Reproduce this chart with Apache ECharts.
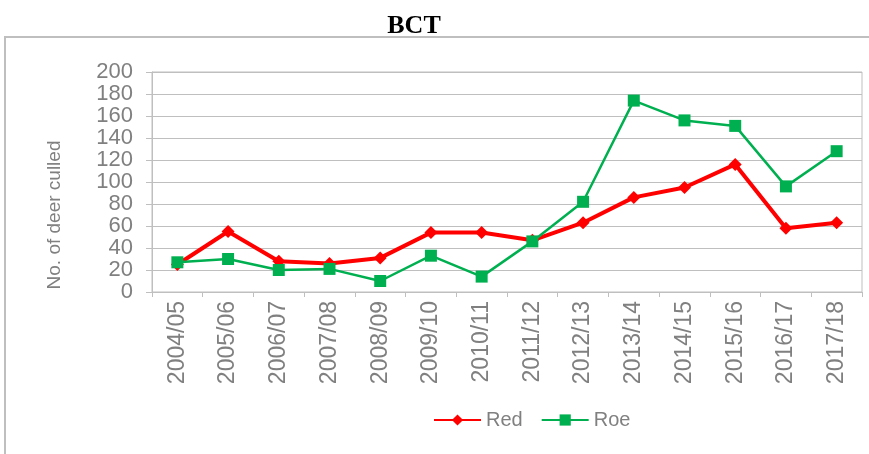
<!DOCTYPE html>
<html>
<head>
<meta charset="utf-8">
<script src="https://cdn.jsdelivr.net/npm/echarts@6/dist/echarts.min.js"></script>
<style>
  html, body { margin: 0; padding: 0; background: #fff; }
  #chart { width: 869px; height: 454px; }
</style>
</head>
<body>
<div id="chart"></div>
<script>
// seasons on the x axis
var seasons = ["2004/05", "2005/06", "2006/07", "2007/08", "2008/09", "2009/10", "2010/11",
  "2011/12", "2012/13", "2013/14", "2014/15", "2015/16", "2016/17", "2017/18"];
// deer culled per season
var redDeer = [25, 55, 28, 26, 31, 54, 54, 47, 63, 86, 95, 116, 58, 63];
var roeDeer = [27, 30, 20, 21, 10, 33, 14, 46, 82, 174, 156, 151, 96, 128];

var grey = "#808080";
var lineGrey = "#bfbfbf";

var chart = echarts.init(document.getElementById("chart"));
chart.setOption({
  animation: false,
  backgroundColor: "#fff",
  title: {
    text: "BCT",
    left: 409,
    top: 8,
    textAlign: "center",
    textStyle: {
      fontFamily: "Liberation Serif",
      fontWeight: "bold",
      fontSize: 26,
      color: "#000"
    }
  },
  graphic: [
    {
      // outer chart frame
      type: "polyline",
      shape: { points: [[5, 460], [5, 37], [875, 37]] },
      style: { stroke: lineGrey, lineWidth: 2, fill: null }
    },
    {
      type: "text",
      x: 55,
      y: 215,
      rotation: Math.PI / 2,
      style: {
        text: "No. of deer culled",
        fontFamily: "Liberation Sans",
        fontSize: 19,
        fill: grey,
        align: "center",
        verticalAlign: "middle"
      }
    }
  ],
  legend: {
    left: 428,
    top: 405,
    itemWidth: 47,
    itemHeight: 14,
    itemGap: 18,
    textStyle: { fontFamily: "Liberation Sans", fontSize: 20, color: grey },
    data: ["Red", "Roe"]
  },
  grid: {
    left: 152,
    top: 72,
    right: 7,
    bottom: 162,
    show: true,
    borderColor: lineGrey,
    borderWidth: 1
  },
  xAxis: {
    type: "category",
    data: seasons,
    boundaryGap: true,
    axisLine: { lineStyle: { color: lineGrey, width: 1 } },
    axisTick: { show: true, length: 5, lineStyle: { color: lineGrey } },
    axisLabel: {
      rotate: 90,
      margin: 9,
      interval: 0,
      color: grey,
      fontFamily: "Liberation Sans",
      fontSize: 23
    }
  },
  yAxis: {
    type: "value",
    min: 0,
    max: 200,
    interval: 20,
    axisLine: { show: true, lineStyle: { color: lineGrey, width: 1 } },
    axisTick: { show: true, length: 6, lineStyle: { color: lineGrey } },
    splitLine: { lineStyle: { color: lineGrey, width: 1 } },
    axisLabel: {
      margin: 19,
      color: grey,
      fontFamily: "Liberation Sans",
      fontSize: 22
    }
  },
  series: [
    {
      name: "Red",
      type: "line",
      data: redDeer,
      symbol: "diamond",
      symbolSize: 13,
      lineStyle: { color: "#ff0000", width: 4 },
      itemStyle: { color: "#ff0000" }
    },
    {
      name: "Roe",
      type: "line",
      data: roeDeer,
      symbol: "rect",
      symbolSize: 12,
      lineStyle: { color: "#00b050", width: 2.5 },
      itemStyle: { color: "#00b050" }
    }
  ]
});
</script>
</body>
</html>
